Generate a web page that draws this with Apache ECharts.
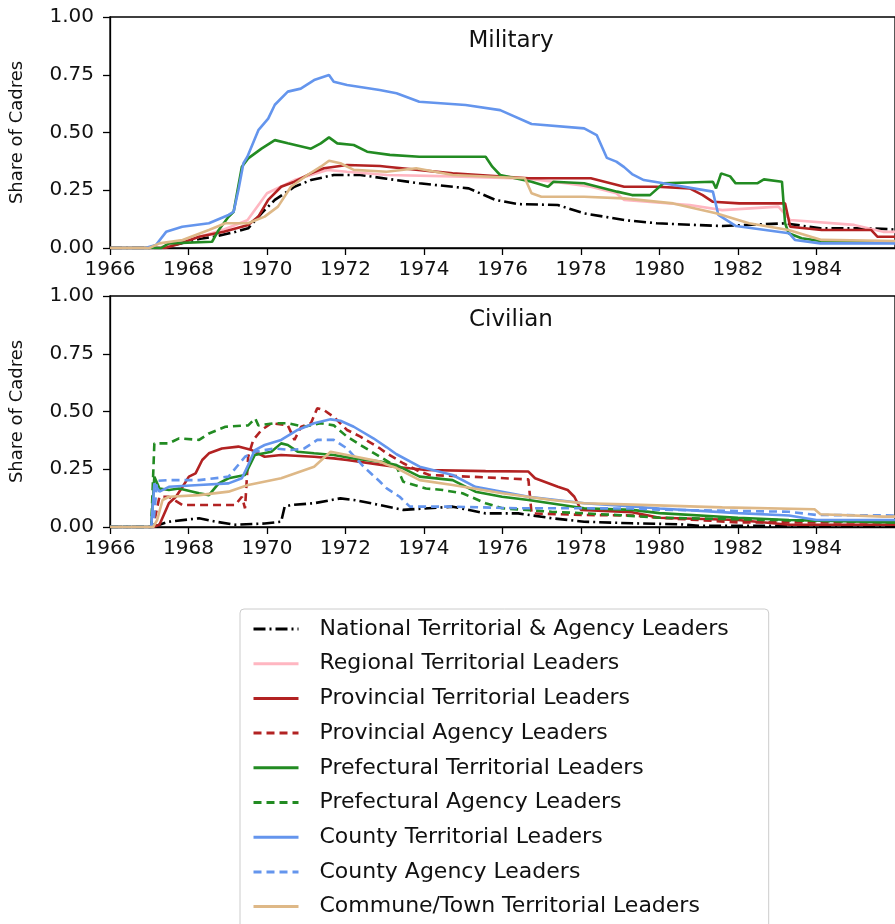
<!DOCTYPE html>
<html>
<head>
<meta charset="utf-8">
<script src="https://cdn.jsdelivr.net/npm/echarts@6/dist/echarts.min.js"></script>
<style>
  html, body { margin: 0; padding: 0; background: #fff; }
  #chart { width: 895px; height: 924px; }
</style>
</head>
<body>
<div id="chart"></div>
<script>
// x ticks
const yearTicks = [1966, 1968, 1970, 1972, 1974, 1976, 1978, 1980, 1982, 1984];
const shareTicks = [0, 0.25, 0.5, 0.75, 1];

const seriesNames = [
  "National Territorial & Agency Leaders",
  "Regional Territorial Leaders",
  "Provincial Territorial Leaders",
  "Provincial Agency Leaders",
  "Prefectural Territorial Leaders",
  "Prefectural Agency Leaders",
  "County Territorial Leaders",
  "County Agency Leaders",
  "Commune/Town Territorial Leaders",
];

// ---- Military panel, [year, share] ----
const milNational = [[1966,0],[1967.3,0],[1967.8,0.02],[1968.3,0.04],[1968.7,0.05],[1969.2,0.07],[1969.52,0.085],[1969.86,0.15],[1970.2,0.208],[1970.7,0.265],[1971.12,0.294],[1971.7,0.316],[1972.38,0.316],[1973.05,0.3],[1973.88,0.28],[1975.14,0.258],[1975.82,0.208],[1976.4,0.19],[1977.41,0.186],[1978.08,0.15],[1979.1,0.121],[1979.93,0.107],[1981.6,0.095],[1983.2,0.107],[1984.1,0.085],[1985.4,0.085],[1986,0.08]];
const milRegional = [[1966,0],[1967.2,0],[1967.7,0.02],[1968.3,0.05],[1968.9,0.08],[1969.5,0.12],[1970,0.237],[1970.7,0.294],[1971.54,0.338],[1972.04,0.33],[1973.05,0.316],[1974.73,0.31],[1976.66,0.3],[1977.6,0.28],[1978.25,0.265],[1978.9,0.237],[1979.1,0.208],[1980.77,0.186],[1981.6,0.164],[1983.03,0.179],[1983.33,0.121],[1984.96,0.1],[1985.7,0.07],[1986,0.07]];
const milProvTerr = [[1966,0],[1967.4,0],[1967.8,0.02],[1968.27,0.049],[1968.9,0.07],[1969.52,0.1],[1969.78,0.136],[1970.03,0.208],[1970.36,0.265],[1970.7,0.287],[1971.12,0.323],[1971.45,0.345],[1972.04,0.359],[1972.88,0.355],[1973.05,0.352],[1974.73,0.323],[1976.66,0.302],[1978.25,0.302],[1979.1,0.265],[1979.93,0.265],[1980.77,0.258],[1981.1,0.229],[1981.36,0.2],[1982.03,0.193],[1983.2,0.193],[1983.33,0.092],[1984.13,0.078],[1985.39,0.078],[1985.55,0.049],[1986,0.049]];
const milPrefTerr = [[1966,0],[1967.3,0],[1967.5,0.02],[1968.6,0.027],[1968.77,0.078],[1969.02,0.135],[1969.15,0.157],[1969.36,0.352],[1969.52,0.388],[1969.86,0.43],[1970.2,0.467],[1970.53,0.453],[1971.12,0.43],[1971.37,0.453],[1971.58,0.479],[1971.79,0.453],[1972.21,0.446],[1972.55,0.417],[1973.13,0.403],[1973.88,0.395],[1975.57,0.395],[1975.74,0.352],[1975.94,0.316],[1976.74,0.287],[1977.16,0.265],[1977.3,0.287],[1978.08,0.28],[1978.92,0.244],[1979.3,0.229],[1979.76,0.229],[1980.1,0.28],[1981.36,0.287],[1981.44,0.258],[1981.57,0.323],[1981.8,0.31],[1981.94,0.28],[1982.49,0.28],[1982.66,0.297],[1983.12,0.287],[1983.2,0.107],[1983.29,0.064],[1983.62,0.042],[1984.1,0.03],[1986,0.025]];
const milCountyTerr = [[1966,0],[1966.9,0],[1967.17,0.013],[1967.43,0.07],[1967.84,0.092],[1968.52,0.107],[1969.02,0.143],[1969.15,0.157],[1969.27,0.25],[1969.4,0.367],[1969.5,0.395],[1969.78,0.51],[1970.03,0.56],[1970.2,0.62],[1970.53,0.677],[1970.86,0.69],[1971.2,0.727],[1971.58,0.749],[1971.7,0.72],[1972.04,0.706],[1972.87,0.684],[1973.3,0.67],[1973.88,0.633],[1975.06,0.619],[1975.94,0.597],[1976.74,0.537],[1978.08,0.518],[1978.4,0.489],[1978.66,0.39],[1978.9,0.374],[1979.1,0.35],[1979.3,0.32],[1979.6,0.294],[1980.1,0.28],[1981.36,0.244],[1981.5,0.143],[1981.95,0.095],[1983.3,0.064],[1983.45,0.035],[1984.1,0.02],[1986,0.02]];
const milCommune = [[1966,0],[1967,0],[1967.26,0.02],[1967.85,0.035],[1968.52,0.078],[1968.94,0.107],[1969.52,0.107],[1969.94,0.136],[1970.28,0.179],[1970.61,0.265],[1971.03,0.316],[1971.37,0.352],[1971.58,0.378],[1971.87,0.367],[1972.21,0.338],[1973.05,0.33],[1973.8,0.345],[1974.73,0.316],[1976.57,0.302],[1976.74,0.237],[1976.99,0.222],[1978.08,0.222],[1979.1,0.215],[1980.35,0.193],[1981.44,0.15],[1982.28,0.107],[1983.29,0.078],[1984.13,0.035],[1986,0.03]];

// ---- Civilian panel ----
const civNational = [[1966,0],[1967.1,0],[1967.26,0.01],[1967.5,0.023],[1968.27,0.038],[1968.69,0.023],[1969.19,0.01],[1969.94,0.015],[1970.36,0.023],[1970.45,0.088],[1970.61,0.095],[1971.2,0.103],[1971.87,0.124],[1972.21,0.117],[1972.88,0.095],[1973.47,0.074],[1974.73,0.088],[1975.57,0.059],[1976.4,0.059],[1977.25,0.038],[1978.08,0.023],[1979.3,0.016],[1980.5,0.012],[1981,0.005],[1986,0.005]];
const civProvTerr = [[1966,0],[1967.1,0],[1967.26,0.01],[1967.5,0.103],[1967.68,0.131],[1967.85,0.174],[1968.01,0.218],[1968.18,0.232],[1968.35,0.29],[1968.52,0.319],[1968.85,0.34],[1969.27,0.348],[1969.61,0.333],[1969.94,0.304],[1970.36,0.312],[1971.2,0.304],[1971.7,0.297],[1972.04,0.29],[1972.87,0.27],[1973.3,0.26],[1973.64,0.254],[1974.05,0.247],[1975.57,0.242],[1976.66,0.24],[1976.83,0.211],[1977.41,0.174],[1977.66,0.16],[1977.83,0.131],[1978,0.074],[1979.3,0.064],[1980,0.04],[1982,0.03],[1983.3,0.01],[1986,0.01]];
const civProvAgency = [[1966,0],[1967.1,0],[1967.26,0.131],[1967.5,0.131],[1967.85,0.095],[1969.19,0.095],[1969.36,0.131],[1969.44,0.081],[1969.52,0.304],[1969.65,0.377],[1969.86,0.42],[1970.11,0.449],[1970.53,0.44],[1970.7,0.377],[1970.87,0.434],[1971.12,0.449],[1971.28,0.514],[1971.45,0.506],[1971.7,0.477],[1972.04,0.42],[1972.38,0.391],[1972.88,0.34],[1973.05,0.319],[1973.47,0.276],[1973.89,0.24],[1974.14,0.225],[1975.57,0.215],[1976.66,0.206],[1976.74,0.059],[1978.08,0.052],[1979.3,0.05],[1980,0.04],[1982,0.02],[1986,0.02]];
const civPrefTerr = [[1966,0],[1967.05,0],[1967.13,0.218],[1967.26,0.167],[1967.5,0.16],[1967.76,0.167],[1968.27,0.146],[1968.52,0.138],[1968.77,0.189],[1969.02,0.211],[1969.44,0.225],[1969.69,0.312],[1970.11,0.326],[1970.36,0.362],[1970.53,0.355],[1970.78,0.326],[1971.2,0.319],[1971.7,0.312],[1972.21,0.297],[1972.88,0.283],[1973.3,0.268],[1973.89,0.218],[1974.73,0.203],[1975.31,0.153],[1975.99,0.131],[1976.66,0.117],[1978.08,0.081],[1979.3,0.074],[1980,0.06],[1982,0.04],[1983.3,0.03],[1986,0.02]];
const civPrefAgency = [[1966,0],[1967.05,0],[1967.13,0.362],[1967.5,0.362],[1967.76,0.384],[1968.27,0.377],[1968.52,0.405],[1968.94,0.434],[1969.52,0.44],[1969.7,0.47],[1969.78,0.44],[1970.2,0.449],[1970.53,0.449],[1970.95,0.434],[1971.37,0.449],[1971.7,0.44],[1972.04,0.391],[1972.38,0.355],[1972.88,0.304],[1973.3,0.261],[1973.47,0.196],[1974.05,0.167],[1974.48,0.16],[1974.98,0.146],[1975.57,0.103],[1975.99,0.081],[1977.25,0.066],[1978.92,0.052],[1980,0.04],[1983,0.03],[1986,0.02]];
const civCountyTerr = [[1966,0],[1967.05,0],[1967.13,0.189],[1967.26,0.153],[1967.5,0.174],[1968.27,0.182],[1969.02,0.189],[1969.36,0.211],[1969.52,0.268],[1969.69,0.333],[1969.94,0.355],[1970.36,0.377],[1970.78,0.42],[1971.2,0.449],[1971.62,0.466],[1971.87,0.46],[1972.21,0.434],[1972.71,0.384],[1973.05,0.345],[1973.3,0.315],[1973.89,0.261],[1974.73,0.225],[1975.31,0.174],[1975.99,0.153],[1976.66,0.131],[1978.08,0.103],[1979.3,0.089],[1980,0.08],[1982,0.06],[1983.3,0.05],[1984,0.03],[1986,0.03]];
const civCountyAgency = [[1966,0],[1967.1,0],[1967.2,0.2],[1967.5,0.203],[1968.27,0.203],[1969.02,0.218],[1969.44,0.304],[1969.69,0.326],[1970.2,0.34],[1970.61,0.333],[1970.95,0.34],[1971.28,0.377],[1971.7,0.377],[1972.04,0.34],[1972.46,0.261],[1972.88,0.196],[1973.05,0.167],[1973.38,0.131],[1973.64,0.088],[1974.73,0.088],[1976.4,0.081],[1978.08,0.081],[1979.3,0.08],[1980,0.075],[1983.3,0.066],[1984,0.052],[1986,0.05]];
const civCommune = [[1966,0],[1967.1,0],[1967.2,0.03],[1967.34,0.117],[1967.5,0.131],[1968.27,0.138],[1969.02,0.153],[1969.52,0.182],[1970.36,0.211],[1971.2,0.261],[1971.62,0.326],[1972.04,0.312],[1972.88,0.283],[1973.05,0.27],[1973.3,0.255],[1973.89,0.203],[1974.73,0.182],[1975.99,0.146],[1977.25,0.117],[1978.08,0.103],[1979.1,0.098],[1981.6,0.085],[1983.95,0.077],[1984.1,0.055],[1985.7,0.045],[1986,0.045]];

const colors = {
  black: "#000000",
  pink: "#ffb6c1",
  red: "#b22222",
  green: "#228b22",
  blue: "#6495ed",
  tan: "#deb887",
};
const dashDot = [12, 4, 2, 4];
const dashed = [8, 5];

function line(name, data, axis, color, type) {
  return {
    name: name,
    type: "line",
    xAxisIndex: axis,
    yAxisIndex: axis,
    data: data,
    symbol: "none",
    animation: false,
    lineStyle: { color: color, width: 2.6, type: type || "solid" },
    itemStyle: { color: color },
  };
}

const axisText = { color: "#111", fontSize: 20, fontFamily: "DejaVu Sans" };

function xAxis(idx) {
  return {
    type: "value",
    gridIndex: idx,
    min: 1966,
    max: 1986,
    interval: 2,
    axisLine: { show: true, lineStyle: { color: "#000", width: 1.3 } },
    axisTick: { show: true, length: 7, lineStyle: { color: "#000", width: 1.3 } },
    axisLabel: Object.assign({ margin: 12, showMaxLabel: false, formatter: (v) => String(v) }, axisText),
    splitLine: { show: false },
  };
}
function yAxis(idx) {
  return {
    type: "value",
    gridIndex: idx,
    min: 0,
    max: 1,
    interval: 0.25,
    name: "Share of Cadres",
    nameLocation: "middle",
    nameGap: 84,
    nameTextStyle: { fontSize: 18, color: "#111", fontFamily: "DejaVu Sans" },
    axisLine: { show: true, lineStyle: { color: "#000", width: 1.3 } },
    axisTick: { show: true, length: 7, lineStyle: { color: "#000", width: 1.3 } },
    axisLabel: Object.assign({ margin: 16, formatter: (v) => v.toFixed(2) }, axisText),
    splitLine: { show: false },
  };
}

const chart = echarts.init(document.getElementById("chart"), null, { renderer: "canvas" });
chart.setOption({
  backgroundColor: "#fff",
  animation: false,
  title: [
    { text: "Military", left: 506, top: 25, textAlign: "center",
      textStyle: { fontSize: 23, fontWeight: "normal", color: "#111", fontFamily: "DejaVu Sans" } },
    { text: "Civilian", left: 506, top: 304, textAlign: "center",
      textStyle: { fontSize: 23, fontWeight: "normal", color: "#111", fontFamily: "DejaVu Sans" } },
  ],
  grid: [
    { left: 110, top: 17, width: 794, height: 231, show: true, borderColor: "#000", borderWidth: 1.3, backgroundColor: "transparent" },
    { left: 110, top: 296, width: 794, height: 231, show: true, borderColor: "#000", borderWidth: 1.3, backgroundColor: "transparent" },
  ],
  xAxis: [xAxis(0), xAxis(1)],
  yAxis: [yAxis(0), yAxis(1)],
  legend: {
    data: seriesNames,
    orient: "vertical",
    left: 240,
    top: 609,
    height: 340,
    padding: [8, 40, 12, 12],
    itemGap: 10.7,
    itemWidth: 45,
    itemHeight: 14,
    borderColor: "#cccccc",
    borderWidth: 1,
    borderRadius: 4,
    itemStyle: { opacity: 0 },
    lineStyle: { width: 3 },
    textStyle: { fontSize: 22, lineHeight: 24, color: "#111", fontFamily: "DejaVu Sans", padding: [0, 0, 0, 16] },
  },
  series: [
    line(seriesNames[0], milNational, 0, colors.black, dashDot),
    line(seriesNames[1], milRegional, 0, colors.pink),
    line(seriesNames[2], milProvTerr, 0, colors.red),
    line(seriesNames[4], milPrefTerr, 0, colors.green),
    line(seriesNames[6], milCountyTerr, 0, colors.blue),
    line(seriesNames[8], milCommune, 0, colors.tan),

    line(seriesNames[0], civNational, 1, colors.black, dashDot),
    line(seriesNames[2], civProvTerr, 1, colors.red),
    line(seriesNames[3], civProvAgency, 1, colors.red, dashed),
    line(seriesNames[4], civPrefTerr, 1, colors.green),
    line(seriesNames[5], civPrefAgency, 1, colors.green, dashed),
    line(seriesNames[6], civCountyTerr, 1, colors.blue),
    line(seriesNames[7], civCountyAgency, 1, colors.blue, dashed),
    line(seriesNames[8], civCommune, 1, colors.tan),
  ],
});
</script>
</body>
</html>
